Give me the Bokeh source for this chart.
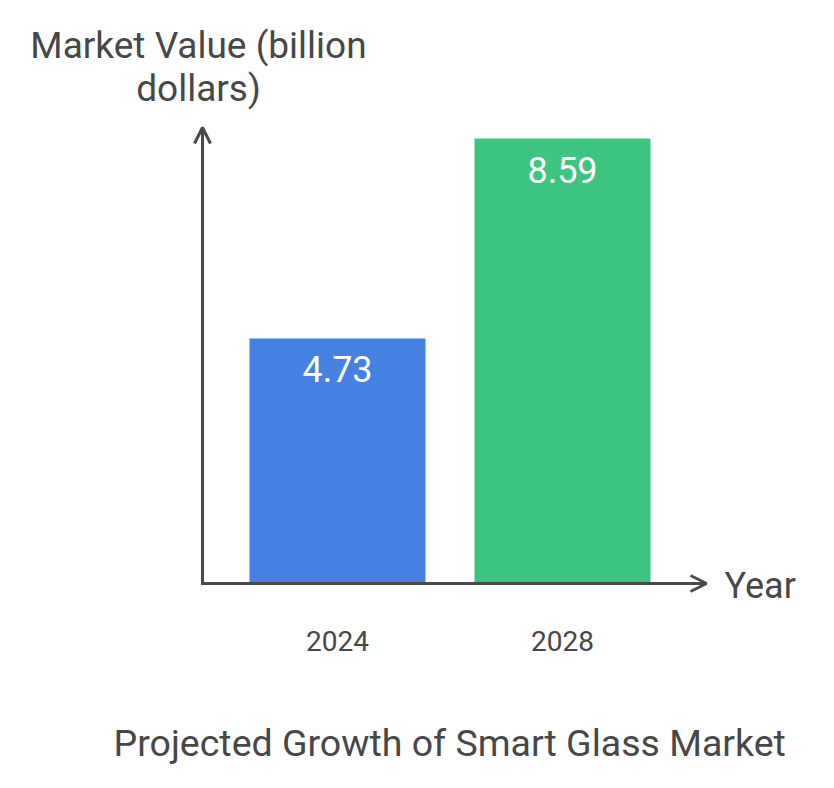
from bokeh.plotting import figure
from bokeh.models import Range1d, Arrow, OpenHead, ColumnDataSource
from bokeh.core.properties import value
from bokeh.embed import file_html
from bokeh.resources import INLINE

# ---- data ----
years = ["2024", "2028"]
market_value = [4.73, 8.59]
bar_colors = ["#4581E2", "#3EC481"]
y_title_lines = ["Market Value (billion", "dollars)"]
x_title = "Year"
chart_title = "Projected Growth of Smart Glass Market"

# ---- layout helpers (pixel -> data) ----
W, H = 834, 788
PX_X = 225.0
PX_Y = 51.8
X0 = 337
Y0 = 583
x_start = 1 - X0 / PX_X
x_end = x_start + W / PX_X
y_start = -(H - Y0) / PX_Y
y_end = Y0 / PX_Y

def px(xp):
    return x_start + xp / PX_X

def py(yp):
    return (Y0 - yp) / PX_Y

FONT = value("Roboto")
TXT = "#474747"
AX = "#4a4a4a"

p = figure(width=W, height=H, output_backend="svg", toolbar_location=None,
           x_range=Range1d(x_start, x_end), y_range=Range1d(y_start, y_end),
           x_axis_type=None, y_axis_type=None, min_border=0,
           outline_line_color=None, background_fill_color="white")
p.grid.visible = False

xs = [i + 1 for i in range(len(years))]
src = ColumnDataSource(dict(x=xs, top=market_value, color=bar_colors,
                            label=[f"{v:.2f}" for v in market_value], year=years))
p.vbar(x="x", top="top", bottom=0, width=176 / PX_X, fill_color="color",
       line_color=None, source=src)

# value labels inside bars
p.text(x="x", y="top", text="label", source=src, text_font=FONT,
       text_font_size="36px", text_color="white", text_align="center",
       text_baseline="middle", y_offset=31)

# category labels
p.text(x="x", y=py(640), text="year", source=src, text_font=FONT,
       text_font_size="28px", text_color=TXT, text_align="center",
       text_baseline="middle")

# axes with arrows
head = dict(size=16, line_width=3, line_color=AX)
p.add_layout(Arrow(end=OpenHead(**head), x_start=px(202), y_start=py(584.5),
                   x_end=px(202), y_end=py(127), line_width=3, line_color=AX))
p.add_layout(Arrow(end=OpenHead(**head), x_start=px(200.5), y_start=0,
                   x_end=px(706), y_end=0, line_width=3, line_color=AX))

# axis titles
p.text(x=[px(198), px(198)], y=[py(45), py(88)], text=y_title_lines, text_font=FONT,
       text_font_size="37px", text_color=TXT, text_align="center",
       text_baseline="alphabetic")
p.text(x=[px(724)], y=[py(585)], text=[x_title], text_font=FONT, text_font_size="36px",
       text_color=TXT, text_align="left", text_baseline="middle")

# chart title
p.text(x=[px(113)], y=[py(742)], text=[chart_title], text_font=FONT,
       text_font_size="37.5px", text_color=TXT, text_align="left",
       text_baseline="alphabetic")

open("out.html", "w").write(file_html(p, INLINE))
